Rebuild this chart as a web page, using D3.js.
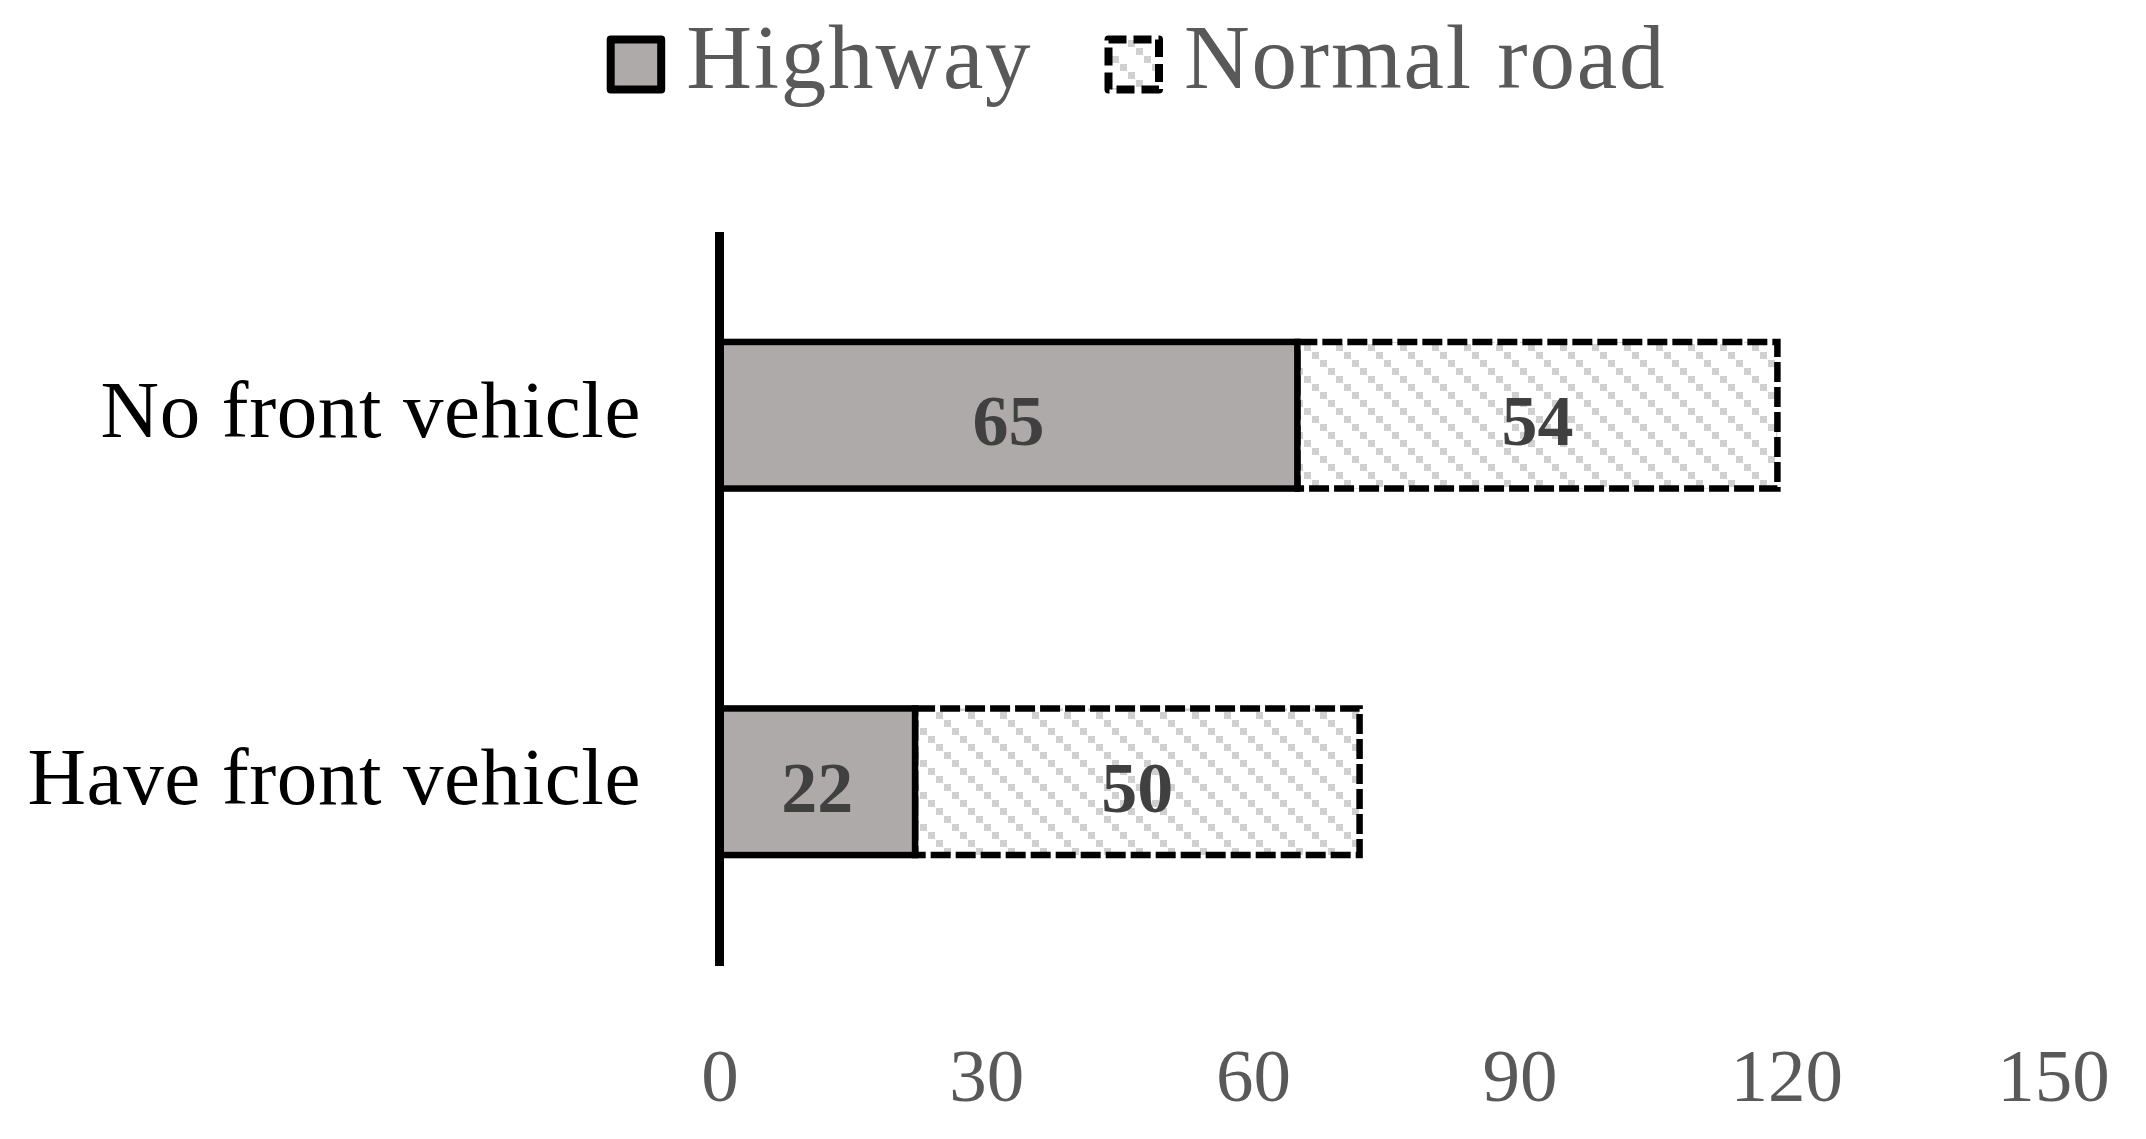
<!DOCTYPE html>
<html>
<head>
<meta charset="utf-8">
<script src="https://cdn.jsdelivr.net/npm/d3@7"></script>
<style>
  html, body { margin: 0; padding: 0; background: #ffffff; }
  svg { display: block; }
  text { font-family: "Liberation Serif", "Times New Roman", serif; }
</style>
</head>
<body>
<svg id="chart" width="2146" height="1139"></svg>
<script>
// ---- data ----
const categories = ["No front vehicle", "Have front vehicle"];
const seriesNames = ["Highway", "Normal road"];
const highwayValues = [65, 22];
const normalRoadValues = [54, 50];
const tickValues = [0, 30, 60, 90, 120, 150];

// ---- setup ----
const svg = d3.select("#chart");
const W = 2146, H = 1139;
svg.append("rect").attr("width", W).attr("height", H).attr("fill", "#ffffff");

const defs = svg.append("defs");
const pat = defs.append("pattern")
  .attr("id", "hatch")
  .attr("patternUnits", "userSpaceOnUse")
  .attr("width", 32).attr("height", 32);
pat.append("rect").attr("width", 32).attr("height", 32).attr("fill", "#ffffff");
[0, 1, 2, 3].forEach(i => {
  pat.append("rect").attr("x", i * 8).attr("y", i * 8).attr("width", 7).attr("height", 7).attr("fill", "#d0d0d0");
});

const x = d3.scaleLinear().domain([0, 150]).range([719.5, 2053]);
const y = d3.scaleBand().domain(categories).range([232, 965]).paddingInner(0.6).paddingOuter(0.3);

const rows = categories.map((c, i) => ({
  cat: c,
  segs: [
    { series: 0, x0: 0, x1: highwayValues[i], v: highwayValues[i] },
    { series: 1, x0: highwayValues[i], x1: highwayValues[i] + normalRoadValues[i], v: normalRoadValues[i] }
  ]
}));

const fills = ["#aeaaaa", "url(#hatch)"];
const dashes = [null, "20,5"];

// bars
const g = svg.append("g");
rows.forEach(r => {
  [1, 0].forEach(si => {
    const s = r.segs[si];
    g.append("rect")
      .attr("x", x(s.x0))
      .attr("y", y(r.cat))
      .attr("width", x(s.x1) - x(s.x0))
      .attr("height", y.bandwidth())
      .attr("fill", fills[si])
      .attr("stroke", "#000000")
      .attr("stroke-width", 6.5)
      .attr("stroke-dasharray", dashes[si]);
  });
  r.segs.forEach(s => {
    g.append("text")
      .attr("x", (x(s.x0) + x(s.x1)) / 2)
      .attr("y", y(r.cat) + y.bandwidth() / 2 + 30)
      .attr("text-anchor", "middle")
      .attr("font-size", 72)
      .attr("font-weight", "bold")
      .attr("fill", "#404040")
      .text(s.v);
  });
});

// vertical axis line
svg.append("line")
  .attr("x1", x(0)).attr("x2", x(0))
  .attr("y1", 232).attr("y2", 966)
  .attr("stroke", "#000000").attr("stroke-width", 9);

// category labels
const yAxis = d3.axisLeft(y).tickSize(0).tickPadding(0);
const yg = svg.append("g").attr("transform", "translate(641,0)").call(yAxis);
yg.select(".domain").remove();
yg.selectAll("text")
  .attr("font-family", "Liberation Serif, serif")
  .attr("font-size", 81)
  .attr("letter-spacing", "0.6px")
  .attr("fill", "#000000")
  .attr("dy", null)
  .attr("y", 22)
  .attr("text-anchor", "end");

// x tick labels
const xAxis = d3.axisBottom(x).tickValues(tickValues).tickSize(0).tickPadding(0);
const xg = svg.append("g").attr("transform", "translate(0,1101)").call(xAxis);
xg.select(".domain").remove();
xg.selectAll("text")
  .attr("font-family", "Liberation Serif, serif")
  .attr("font-size", 75)
  .attr("fill", "#595959")
  .attr("dy", null)
  .attr("y", 0);

// legend
const legendX = [610.7, 1108.5];
const leg = svg.append("g");
seriesNames.forEach((name, i) => {
  leg.append("rect")
    .attr("x", legendX[i]).attr("y", 39.5)
    .attr("width", 50.5).attr("height", 50)
    .attr("fill", fills[i])
    .attr("stroke", "#000000")
    .attr("stroke-width", 8)
    .attr("stroke-linejoin", "round")
    .attr("stroke-dasharray", i === 1 ? "18,7" : null);
  leg.append("text")
    .attr("x", legendX[i] + 75.5)
    .attr("y", 88.3)
    .attr("font-size", 91)
    .attr("letter-spacing", "1.8px")
    .attr("fill", "#595959")
    .text(name);
});
</script>
</body>
</html>
